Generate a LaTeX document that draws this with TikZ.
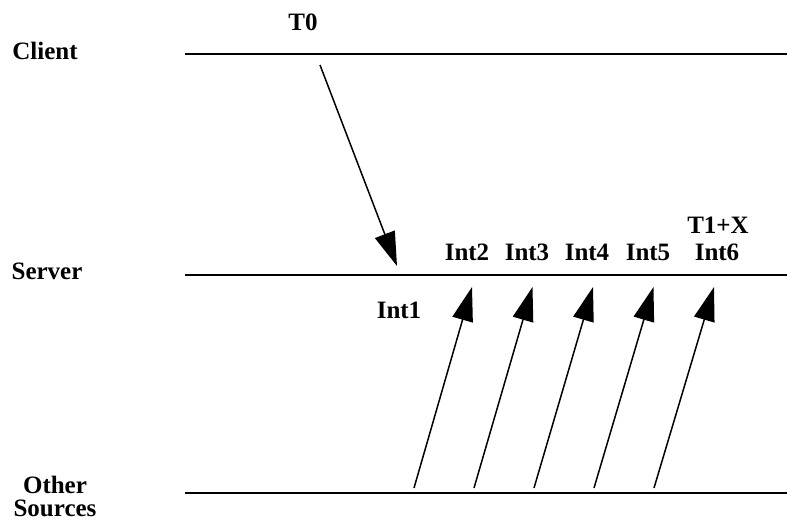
\documentclass[tikz,border=0pt]{standalone}
\usepackage{fontspec}
\setmainfont{Liberation Serif}
\usetikzlibrary{arrows.meta}
\begin{document}
\begin{tikzpicture}[x=1pt,y=-1pt,
  lbl/.style={font=\fontsize{25}{30}\selectfont\bfseries, inner sep=0pt, align=center},
  lane/.style={line width=1.8pt},
  msg/.style={line width=1.5pt, -{Triangle[length=34pt,width=21pt]}}]
\useasboundingbox (0,0) rectangle (787,522);

% timelines
\coordinate (cA) at (185,54);  \coordinate (cB) at (787,54);
\coordinate (sA) at (185,275); \coordinate (sB) at (787,275);
\coordinate (oA) at (185,493); \coordinate (oB) at (787,493);
\draw[lane] (cA) -- (cB);
\draw[lane] (sA) -- (sB);
\draw[lane] (oA) -- (oB);

% lane names
\node[lbl] (client) at (45,51) {Client};
\node[lbl] (server) at (47,271) {Server};
\node[lbl] (other) at (55,496) {Other\\[-7pt]Sources};

% request from the client
\node[lbl] (t0) at (303,22) {T0};
\coordinate (req0) at (320,65);
\coordinate (req1) at (397,266);
\draw[msg] (req0) -- (req1);
\node[lbl] (int1) at (399,310) {Int1};

% replies from the other sources
\foreach \i/\x in {2/0,3/1,4/2,5/3,6/4}{
  \coordinate (b\i) at ({414+60*\x},488);
  \coordinate (t\i) at ({472+60.5*\x},287);
  \draw[msg] (b\i) -- (t\i);
}
\node[lbl] (int2) at (467,252) {Int2};
\node[lbl] (int3) at (527,252) {Int3};
\node[lbl] (int4) at (587,252) {Int4};
\node[lbl] (int5) at (648,252) {Int5};
\node[lbl] (int6) at (717,252) {Int6};
\node[lbl] (t1x) at (718,225) {T1+X};
\end{tikzpicture}
\end{document}
